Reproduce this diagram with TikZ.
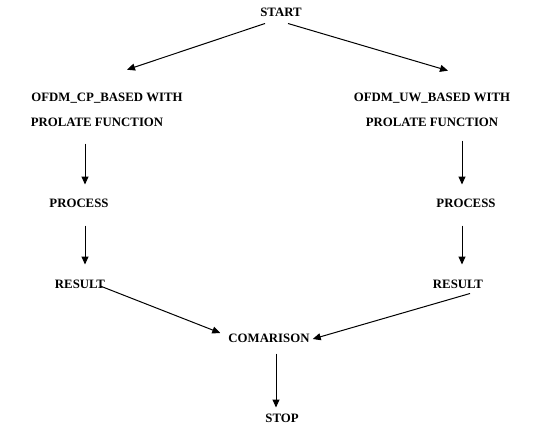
\documentclass[tikz,border=0pt]{standalone}
\usepackage{fontspec}
\setmainfont{Liberation Serif}
\usetikzlibrary{arrows.meta}
\begin{document}
\begin{tikzpicture}[x=1pt,y=-1pt,
    lbl/.style={font=\bfseries\fontsize{12.8}{14}\selectfont, inner sep=1pt},
    arr/.style={-{Triangle[length=8pt,width=7pt]}, line width=1pt}]
    \useasboundingbox (0,0) rectangle (547,426);
    \node[lbl] (start) at (281,12) {START};
    \node[lbl] (cpL) at (107,98) {OFDM\_CP\_BASED WITH};
    \node[lbl] (prolL) at (97,122) {PROLATE FUNCTION};
    \node[lbl] (cpR) at (432,98) {OFDM\_UW\_BASED WITH};
    \node[lbl] (prolR) at (432,122) {PROLATE FUNCTION};
    \node[lbl] (procL) at (79,203) {PROCESS};
    \node[lbl] (procR) at (466,203) {PROCESS};
    \node[lbl] (resL) at (80,284) {RESULT};
    \node[lbl] (resR) at (458,284) {RESULT};
    \node[lbl] (comp) at (269,338) {COMARISON};
    \node[lbl] (stop) at (282,418) {STOP};
    \draw[arr] ([shift={(-16,6)}]start.south) -- ([shift={(20,-22)}]cpL.north);
    \draw[arr] ([shift={(7,6)}]start.south) -- ([shift={(16,-21)}]cpR.north);
    \draw[arr] ([shift={(-12,16)}]prolL.south) -- ([shift={(6,-13)}]procL.north);
    \draw[arr] ([shift={(30,13)}]prolR.south) -- ([shift={(-4,-13)}]procR.north);
    \draw[arr] ([shift={(6,17)}]procL.south) -- ([shift={(5,-14)}]resL.north);
    \draw[arr] ([shift={(-4,17)}]procR.south) -- ([shift={(4,-14)}]resR.north);
    \draw[arr] ([shift={(-6,2)}]resL.east) -- ([shift={(-7,-5)}]comp.west);
    \draw[arr] ([shift={(12,4)}]resR.south) -- ([shift={(2,1)}]comp.east);
    \draw[arr] ([shift={(7,10)}]comp.south) -- ([shift={(-6,-5)}]stop.north);
\end{tikzpicture}
\end{document}
